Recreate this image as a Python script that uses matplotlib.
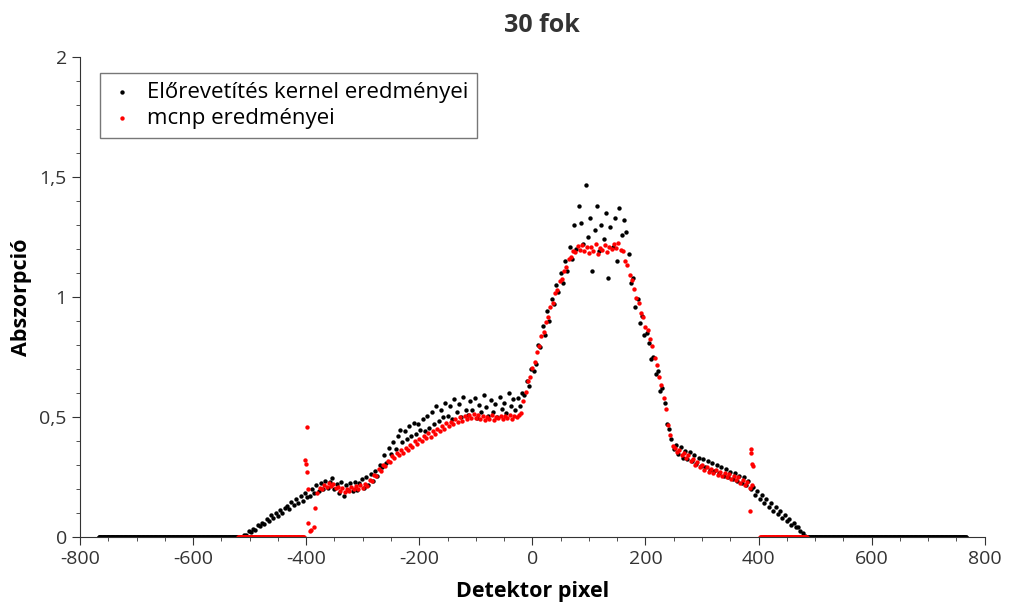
import numpy as np
import matplotlib
matplotlib.use('Agg')
import matplotlib.pyplot as plt
from matplotlib.ticker import MultipleLocator, FuncFormatter

plt.rcParams['font.family'] = ['Open Sans', 'DejaVu Sans']
plt.rcParams['axes.unicode_minus'] = False

# [1] adatok - Előrevetítés kernel (fekete)
# a nulla szakaszok minden pixelen, a nem nulla részt 4 pixelenként olvastam le
kernel_zero_left_x = np.arange(-767, -515)
kernel_zero_right_x = np.arange(486, 768)
kernel_ramp_x = np.arange(-514, 483, 4)
kernel_ramp = [
    0.002, 0.008, 0.010, 0.024, 0.020, 0.034, 0.031, 0.050, 0.044, 0.060,
    0.055, 0.075, 0.068, 0.090, 0.080, 0.098, 0.088, 0.112, 0.100, 0.122,
    0.130, 0.118, 0.145, 0.133, 0.160, 0.142, 0.170, 0.150, 0.185, 0.165,
    0.172, 0.200, 0.182, 0.215, 0.190, 0.225, 0.200, 0.235, 0.205, 0.228,
    0.245, 0.200, 0.220, 0.185, 0.230, 0.170, 0.215, 0.195, 0.225, 0.190,
    0.230, 0.195, 0.225, 0.240, 0.205, 0.250, 0.215, 0.262, 0.235, 0.275,
    0.255, 0.300, 0.290, 0.340, 0.310, 0.370, 0.345, 0.395, 0.365, 0.420,
    0.445, 0.395, 0.440, 0.410, 0.462, 0.420, 0.475, 0.430, 0.470, 0.445,
    0.490, 0.440, 0.505, 0.455, 0.520, 0.470, 0.545, 0.485, 0.530, 0.500,
    0.560, 0.505, 0.545, 0.490, 0.575, 0.520, 0.555, 0.500, 0.585, 0.530,
    0.510, 0.565, 0.530, 0.580, 0.495, 0.550, 0.520, 0.590, 0.540, 0.505,
    0.570, 0.520, 0.555, 0.500, 0.585, 0.535, 0.560, 0.515, 0.600, 0.545,
    0.575, 0.530, 0.580, 0.545, 0.600, 0.590, 0.650, 0.630, 0.700, 0.690,
    0.720, 0.800, 0.790, 0.880, 0.840, 0.940, 0.900, 0.990, 0.970, 1.050,
    1.020, 1.100, 1.060, 1.150, 1.110, 1.210, 1.160, 1.300, 1.200, 1.380,
    1.310, 1.220, 1.465, 1.250, 1.330, 1.110, 1.280, 1.380, 1.190, 1.300,
    1.240, 1.350, 1.080, 1.290, 1.210, 1.330, 1.150, 1.370, 1.260, 1.320,
    1.270, 1.180, 1.060, 1.080, 0.960, 0.990, 0.890, 0.920, 0.840, 0.850,
    0.810, 0.740, 0.750, 0.680, 0.690, 0.610, 0.620, 0.560, 0.470, 0.450,
    0.410, 0.365, 0.385, 0.345, 0.375, 0.330, 0.360, 0.325, 0.355, 0.315,
    0.340, 0.305, 0.330, 0.295, 0.325, 0.290, 0.315, 0.280, 0.310, 0.275,
    0.300, 0.265, 0.290, 0.255, 0.285, 0.250, 0.270, 0.240, 0.265, 0.235,
    0.255, 0.225, 0.250, 0.215, 0.235, 0.200, 0.210, 0.175, 0.190, 0.160,
    0.175, 0.140, 0.158, 0.125, 0.140, 0.108, 0.124, 0.095, 0.108, 0.080,
    0.090, 0.068, 0.074, 0.052, 0.058, 0.040, 0.042, 0.024, 0.018, 0.005,
]
kernel_x = np.concatenate([kernel_zero_left_x, kernel_ramp_x, kernel_zero_right_x])
kernel_y = np.concatenate([np.zeros(len(kernel_zero_left_x)), kernel_ramp,
                           np.zeros(len(kernel_zero_right_x))])

# [2] adatok - mcnp (piros)
mcnp_x_main = np.arange(-380, 389, 4)
mcnp_y_main = [
    0.185, 0.205, 0.198, 0.216, 0.208, 0.224, 0.212, 0.220, 0.203, 0.210,
    0.192, 0.205, 0.188, 0.200, 0.190, 0.207, 0.198, 0.212, 0.202, 0.215,
    0.205, 0.222, 0.214, 0.236, 0.232, 0.258, 0.255, 0.282, 0.276, 0.300,
    0.295, 0.318, 0.312, 0.338, 0.330, 0.352, 0.342, 0.362, 0.352, 0.372,
    0.362, 0.385, 0.375, 0.398, 0.388, 0.410, 0.402, 0.422, 0.412, 0.432,
    0.418, 0.440, 0.428, 0.450, 0.440, 0.462, 0.452, 0.473, 0.462, 0.480,
    0.470, 0.490, 0.478, 0.498, 0.485, 0.505, 0.492, 0.510, 0.495, 0.512,
    0.495, 0.508, 0.490, 0.503, 0.486, 0.500, 0.492, 0.507, 0.488, 0.502,
    0.494, 0.506, 0.490, 0.504, 0.496, 0.510, 0.492, 0.505, 0.498, 0.508,
    0.518, 0.565, 0.605, 0.650, 0.668, 0.705, 0.728, 0.772, 0.795, 0.838,
    0.855, 0.895, 0.915, 0.958, 0.975, 1.018, 1.030, 1.068, 1.075, 1.108,
    1.125, 1.158, 1.165, 1.192, 1.188, 1.212, 1.195, 1.215, 1.190, 1.208,
    1.185, 1.210, 1.192, 1.220, 1.178, 1.205, 1.195, 1.215, 1.188, 1.210,
    1.198, 1.222, 1.205, 1.225, 1.195, 1.190, 1.148, 1.132, 1.092, 1.070,
    1.035, 0.995, 0.975, 0.935, 0.915, 0.875, 0.862, 0.825, 0.795, 0.745,
    0.715, 0.665, 0.635, 0.580, 0.535, 0.465, 0.425, 0.380, 0.372, 0.355,
    0.362, 0.342, 0.352, 0.330, 0.340, 0.315, 0.325, 0.302, 0.312, 0.290,
    0.298, 0.280, 0.292, 0.272, 0.285, 0.265, 0.278, 0.258, 0.272, 0.255,
    0.268, 0.248, 0.262, 0.242, 0.255, 0.236, 0.248, 0.226, 0.238, 0.218,
    0.228, 0.205, 0.215,
]
mcnp_zero_left_x = np.arange(-520, -403)
mcnp_zero_right_x = np.arange(403, 486)
# kiugró pontok a két szélén
mcnp_spike_x = [-402, -401, -398, -398, -397, -397, -393, -391, -387, -384,
                385, 386, 387, 389, 390]
mcnp_spike_y = [0.320, 0.304, 0.457, 0.270, 0.200, 0.057, 0.025, 0.029, 0.043, 0.120,
                0.110, 0.366, 0.350, 0.305, 0.295]

mcnp_x = np.concatenate([mcnp_zero_left_x, mcnp_spike_x, mcnp_x_main, mcnp_zero_right_x])
mcnp_y = np.concatenate([np.zeros(len(mcnp_zero_left_x)), mcnp_spike_y, mcnp_y_main,
                         np.zeros(len(mcnp_zero_right_x))])

# [3] ábra
fig = plt.figure(figsize=(10.1, 6.05), dpi=100)
ax = fig.add_axes([0.0792, 0.1124, 0.8958, 0.7934])

ax.scatter(kernel_x, kernel_y, s=10, color='black', linewidths=0, label='Előrevetítés kernel eredményei')
ax.scatter(mcnp_x, mcnp_y, s=10, color='red', linewidths=0, label='mcnp eredményei')

ax.set_xlim(-800, 800)
ax.set_ylim(0, 2)
ax.xaxis.set_major_locator(MultipleLocator(200))
ax.xaxis.set_minor_locator(MultipleLocator(50))
ax.yaxis.set_major_locator(MultipleLocator(0.5))
ax.yaxis.set_minor_locator(MultipleLocator(0.1))
ax.yaxis.set_major_formatter(FuncFormatter(lambda v, p: f"{v:g}".replace('.', ',')))

for s in ['top', 'right']:
    ax.spines[s].set_visible(False)
for s in ['left', 'bottom']:
    ax.spines[s].set_color('#333333')
ax.tick_params(which='major', direction='out', length=6, color='#333333', labelsize=14, labelcolor='#333333')
ax.tick_params(which='minor', direction='out', length=3, color='#333333')

ax.set_title('30 fok', fontsize=18, fontweight='bold', color='#333333', pad=18, x=0.5105)
ax.set_xlabel('Detektor pixel', fontsize=15.5, fontweight='bold', labelpad=9)
ax.set_ylabel('Abszorpció', fontsize=15.5, fontweight='bold', labelpad=5)

leg = ax.legend(loc='upper left', bbox_to_anchor=(0.022, 0.967), borderaxespad=0,
                fontsize=16, markerscale=1.0,
                handletextpad=0.5, handlelength=1.2, frameon=True, fancybox=False,
                borderpad=0.4, labelspacing=0.25)
leg.get_frame().set_edgecolor('#555555')
leg.get_frame().set_linewidth(1.0)

plt.savefig('out.png', dpi=100)
